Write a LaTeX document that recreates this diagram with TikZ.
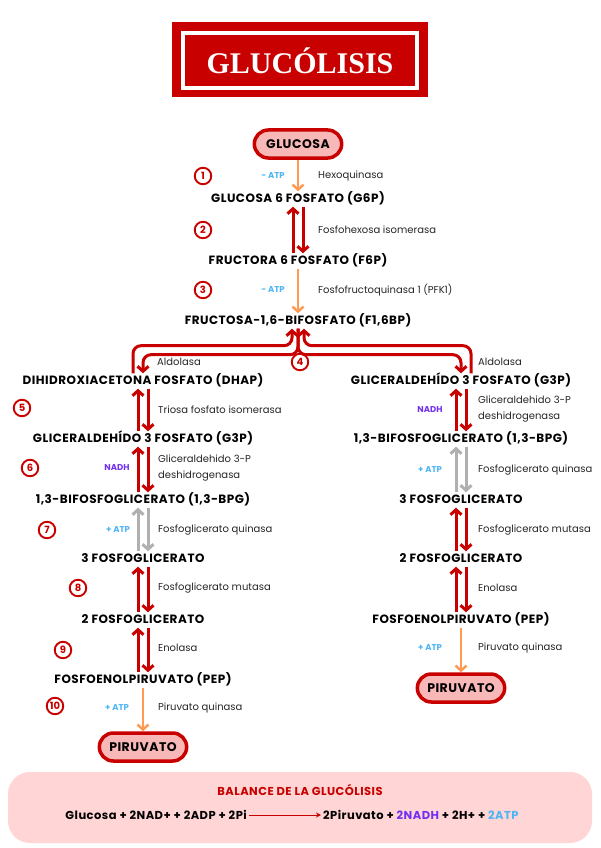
\documentclass[tikz,border=0pt]{standalone}
\usepackage{fontspec}
\setmainfont{Poppins}
\newfontfamily\ancha[LetterSpace=4]{Poppins}
\newfontfamily\titlefont{Liberation Serif}
\usetikzlibrary{arrows.meta,shapes.misc,positioning,calc}

\definecolor{rojo}{HTML}{C80000}
\definecolor{naranja}{HTML}{FF9A55}
\definecolor{celeste}{HTML}{4DB5F5}
\definecolor{morado}{HTML}{7030F0}
\definecolor{gris}{HTML}{B0B0B0}
\definecolor{rosa}{HTML}{F8B8B8}
\definecolor{rosaclaro}{HTML}{FFD5D5}

\begin{document}
\begin{tikzpicture}[x=1pt,y=-1pt,
    metab/.style={font=\ancha\bfseries\fontsize{12}{13}\selectfont, inner sep=2pt, text height=8.5pt, text depth=2.5pt},
    enzima/.style={anchor=west, align=left, inner sep=0pt, font=\fontsize{10}{16.5}\selectfont, text=black!85},
    cofactor/.style={font=\bfseries\fontsize{8.5}{9}\selectfont},
    paso/.style={circle, draw=rojo, line width=1.9pt, minimum size=16.5pt, inner sep=0pt, text=rojo, font=\bfseries\fontsize{10}{10}\selectfont},
    extremo/.style={rounded rectangle, draw=rojo, line width=3.5pt, fill=rosa, minimum width=94pt, minimum height=28pt, font=\ancha\bfseries\fontsize{12.5}{13}\selectfont},
    flecharev/.style={draw=rojo, line width=3pt, -{Straight Barb[length=5pt,width=11pt]}},
    flechagris/.style={draw=gris, line width=3pt, -{Straight Barb[length=5pt,width=11pt]}},
    flechanar/.style={draw=naranja, line width=2.5pt, -{Straight Barb[length=5pt,width=11pt]}}
  ]
  \useasboundingbox (0,0) rectangle (600,848);

  % Titulo
  \fill[rojo] (172,22) rectangle (428,97);
  \draw[white, line width=3.5pt] (183,33) rectangle (417,88);
  \node[text=white, font=\titlefont\bfseries\fontsize{30}{32}\selectfont] (titulo) at (300,61) {GLUCÓLISIS};

  % Fase comun
  \node[extremo] (glucosa) at (298,144) {GLUCOSA};
  \node[metab] (g6p) at (298,199) {GLUCOSA 6 FOSFATO (G6P)};
  \node[metab] (f6p) at (298,261) {FRUCTORA 6 FOSFATO (F6P)};
  \node[metab] (f16bp) at (298,321) {FRUCTOSA-1,6-BIFOSFATO (F1,6BP)};

  % Rama izquierda
  \node[metab] (dhap) at (143,381) {DIHIDROXIACETONA FOSFATO (DHAP)};
  \node[metab] (gapI) at (143,439) {GLICERALDEHÍDO 3 FOSFATO (G3P)};
  \node[metab] (bpgI) at (143,500) {1,3-BIFOSFOGLICERATO (1,3-BPG)};
  \node[metab] (tresI) at (143,559) {3 FOSFOGLICERATO};
  \node[metab] (dosI) at (143,620) {2 FOSFOGLICERATO};
  \node[metab] (pepI) at (143,680) {FOSFOENOLPIRUVATO (PEP)};
  \node[extremo] (piruI) at (143,747) {PIRUVATO};

  % Rama derecha
  \node[metab] (gapD) at (461,381) {GLICERALDEHÍDO 3 FOSFATO (G3P)};
  \node[metab] (bpgD) at (461,439) {1,3-BIFOSFOGLICERATO (1,3-BPG)};
  \node[metab] (tresD) at (461,500) {3 FOSFOGLICERATO};
  \node[metab] (dosD) at (461,559) {2 FOSFOGLICERATO};
  \node[metab] (pepD) at (461,620) {FOSFOENOLPIRUVATO (PEP)};
  \node[extremo] (piruD) at (461,688) {PIRUVATO};

  % Flechas
  \foreach \a/\b in {glucosa/g6p, f6p/f16bp, pepI/piruI, pepD/piruD}
    \draw[flechanar] (\a.south) -- (\b.north);
  \foreach \a/\b in {g6p/f6p, dhap/gapI, gapI/bpgI, tresI/dosI, dosI/pepI, gapD/bpgD, tresD/dosD, dosD/pepD} {
    \draw[flecharev] ([xshift=-5pt]\b.north) -- ([xshift=-5pt]\a.south);
    \draw[flecharev] ([xshift=5pt]\a.south) -- ([xshift=5pt]\b.north);
  }
  \foreach \a/\b in {bpgI/tresI, bpgD/tresD} {
    \draw[flechagris] ([xshift=-5pt]\b.north) -- ([xshift=-5pt]\a.south);
    \draw[flechagris] ([xshift=5pt]\a.south) -- ([xshift=5pt]\b.north);
  }

  % Aldolasa
  \draw[flecharev, rounded corners=8pt] ([xshift=-10pt]dhap.north) |- ($(f16bp.south)+(-6,17)$) -- ([xshift=-6pt]f16bp.south);
  \draw[flecharev, rounded corners=8pt] ([xshift=10pt]gapD.north) |- ($(f16bp.south)+(6,17)$) -- ([xshift=6pt]f16bp.south);
  \draw[flecharev, rounded corners=8pt] (f16bp.south) -- ++(0,26) -| (dhap.north);
  \draw[flecharev, rounded corners=8pt] (f16bp.south) -- ++(0,26) -| (gapD.north);

  % Enzimas
  \node[enzima] (e1) at (318,176) {Hexoquinasa};
  \node[enzima] (e2) at (318,230) {Fosfohexosa isomerasa};
  \node[enzima] (e3) at (318,290) {Fosfofructoquinasa 1 (PFK1)};
  \node[enzima] (e4I) at (157,362) {Aldolasa};
  \node[enzima] (e4D) at (478,362) {Aldolasa};
  \node[enzima] (e5) at (158,410) {Triosa fosfato isomerasa};
  \node[enzima] (e6I) at (158,468) {Gliceraldehido 3-P\\deshidrogenasa};
  \node[enzima] (e7I) at (158,530) {Fosfoglicerato quinasa};
  \node[enzima] (e8I) at (158,588) {Fosfoglicerato mutasa};
  \node[enzima] (e9I) at (158,648) {Enolasa};
  \node[enzima] (e10I) at (158,708) {Piruvato quinasa};
  \node[enzima] (e6D) at (478,409) {Gliceraldehido 3-P\\deshidrogenasa};
  \node[enzima] (e7D) at (478,470) {Fosfoglicerato quinasa};
  \node[enzima] (e8D) at (478,530) {Fosfoglicerato mutasa};
  \node[enzima] (e9D) at (478,588) {Enolasa};
  \node[enzima] (e10D) at (478,648) {Piruvato quinasa};

  % ATP / NADH
  \foreach \x/\y/\t in {273/176/- ATP, 273/290/- ATP, 118/530/+ ATP, 117/708/+ ATP, 430/470/+ ATP, 430/648/+ ATP}
    \node[cofactor, text=celeste] at (\x,\y) {\t};
  \foreach \x/\y in {117/468, 430/410}
    \node[cofactor, text=morado] at (\x,\y) {NADH};

  % Pasos
  \foreach \n/\x/\y in {1/203/176, 2/203/230, 3/203/290, 4/300/362, 5/22/408, 6/30/468, 7/47/530, 8/78/588, 9/63/650, 10/55/706}
    \node[paso] (paso\n) at (\x,\y) {\n};

  % Balance
  \node[fill=rosaclaro, rounded corners=22pt, minimum width=584pt, minimum height=71pt] (caja) at (300,807.5) {};
  \node[text=rojo, font=\ancha\bfseries\fontsize{11.5}{12}\selectfont] (balance) at (300,790) {BALANCE DE LA GLUCÓLISIS};
  \node[anchor=east, font=\ancha\bfseries\fontsize{11.5}{12}\selectfont, inner sep=2pt] (reactivos) at (249,815) {Glucosa + 2NAD+ + 2ADP + 2Pi};
  \node[anchor=west, font=\ancha\bfseries\fontsize{11.5}{12}\selectfont, inner sep=2pt] (productos) at (321,815) {2Piruvato + \textcolor{morado}{2NADH} + 2H+ + \textcolor{celeste}{2ATP}};
  \draw[rojo, line width=1pt, -{Stealth[length=5pt,width=5pt]}] (reactivos) -- (productos);
\end{tikzpicture}
\end{document}
